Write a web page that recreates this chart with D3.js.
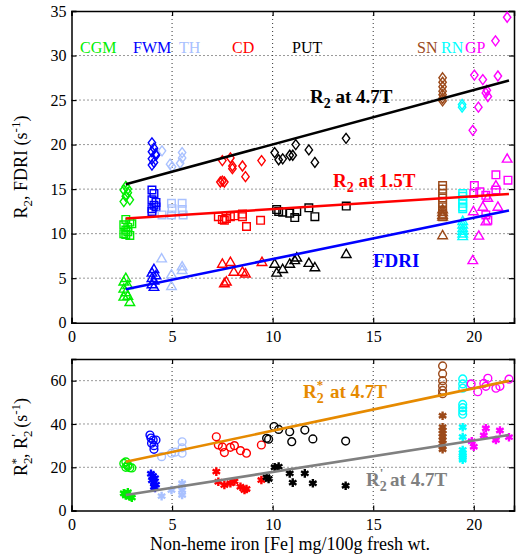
<!DOCTYPE html>
<html><head><meta charset="utf-8">
<script src="https://cdn.jsdelivr.net/npm/d3@7"></script>
<style>body{margin:0;background:#fff}text{font-family:"Liberation Serif","Times New Roman",serif}</style>
</head><body>
<svg id="c" width="530" height="557"></svg>
<script>
const regions = ["CGM","FWM","TH","CD","PUT","SN","RN","GP"];
const regionColors = ["#00ee00","#0000ff","#a9c1ff","#ff0000","#000000","#9c4a1a","#00ffff","#ff00ff"];
const xTicks = [0,5,10,15,20];
const yTicksTop = [0,5,10,15,20,25,30,35];
const yTicksBottom = [0,20,40,60];

// R2 at 4.7T (diamonds)
const r2_47 = [
 ["CGM",2.7,15.3],["CGM",2.6,14.9],["CGM",2.8,14.6],["CGM",2.7,14.2],["CGM",2.9,13.8],["CGM",2.6,13.6],["CGM",2.8,15.0],
 ["FWM",4.0,20.2],["FWM",4.1,19.6],["FWM",4.0,19.2],["FWM",4.2,18.8],["FWM",4.0,18.4],["FWM",4.1,18.0],["FWM",4.0,17.7],["FWM",4.2,19.0],
 ["TH",4.5,19.3],["TH",4.9,17.8],["TH",5.0,17.5],["TH",5.5,19.1],["TH",5.5,18.5],["TH",5.4,17.9],
 ["CD",7.5,18.2],["CD",7.9,18.5],["CD",8.0,17.6],["CD",8.0,17.3],["CD",8.5,17.6],["CD",8.65,16.4],["CD",9.45,18.2],["CD",7.4,15.8],["CD",7.6,15.8],["CD",7.5,15.9],
 ["PUT",10.1,19.1],["PUT",10.3,18.3],["PUT",10.5,18.4],["PUT",10.85,18.8],["PUT",11.15,20.0],["PUT",11.0,18.8],["PUT",11.8,19.4],["PUT",12.1,18.0],["PUT",13.65,20.7],
 ["SN",18.45,27.5],["SN",18.45,27.0],["SN",18.45,26.5],["SN",18.45,26.0],["SN",18.45,25.6],["SN",18.45,25.2],["SN",18.45,24.9],
 ["RN",19.42,24.2],["RN",19.42,24.5],
 ["GP",21.66,34.3],["GP",21.08,31.65],["GP",20.03,27.8],["GP",20.45,27.3],["GP",21.2,27.7],["GP",20.65,26.1],["GP",20.7,25.4],["GP",20.6,25.8],["GP",20.23,24.2],["GP",19.95,21.6]
];
// R2 at 1.5T (squares)
const r2_15 = [
 ["CGM",2.7,11.6],["CGM",2.9,11.3],["CGM",2.6,11.0],["CGM",2.8,10.7],["CGM",2.7,10.4],["CGM",2.6,10.0],["CGM",2.9,9.8],["CGM",2.8,10.2],["CGM",3.0,11.1],["CGM",2.7,9.9],
 ["FWM",4.0,14.9],["FWM",4.1,14.5],["FWM",4.0,13.8],["FWM",4.2,13.5],["FWM",4.1,13.2],["FWM",4.0,12.8],["FWM",4.0,12.5],["FWM",4.2,13.0],
 ["TH",4.5,12.1],["TH",4.97,13.4],["TH",5.0,12.8],["TH",5.5,13.4],["TH",5.5,12.7],["TH",5.55,12.1],["TH",4.97,12.1],
 ["CD",7.3,11.9],["CD",7.5,11.6],["CD",7.7,11.7],["CD",7.9,11.9],["CD",8.1,12.0],["CD",8.5,12.2],["CD",8.5,11.9],["CD",8.7,10.8],["CD",9.4,11.5],["CD",7.6,11.5],
 ["PUT",10.2,12.7],["PUT",10.3,12.5],["PUT",10.5,12.4],["PUT",10.85,12.3],["PUT",11.1,11.8],["PUT",11.2,12.5],["PUT",11.8,12.9],["PUT",12.1,11.9],["PUT",13.66,13.1],
 ["SN",18.45,15.4],["SN",18.45,15.0],["SN",18.45,14.5],["SN",18.45,14.0],["SN",18.45,13.5],["SN",18.45,13.0],["SN",18.45,12.5],["SN",18.45,12.2],["SN",18.45,11.9],
 ["RN",19.45,14.5],["RN",19.45,14.2],["RN",19.45,13.8],["RN",19.45,13.4],["RN",19.45,13.0],["RN",19.45,12.8],
 ["GP",20.03,15.4],["GP",20.3,14.7],["GP",20.6,14.3],["GP",21.1,16.6],["GP",21.7,16.0],["GP",21.1,14.9],["GP",20.7,11.5],["GP",20.6,12.1],["GP",20.0,14.5]
];
// FDRI (triangles)
const fdri = [
 ["CGM",2.7,5.0],["CGM",2.6,4.6],["CGM",2.8,4.2],["CGM",2.6,3.8],["CGM",2.7,3.4],["CGM",2.8,3.0],["CGM",2.9,2.3],["CGM",2.6,2.9],
 ["FWM",4.1,6.0],["FWM",4.0,5.6],["FWM",4.2,5.3],["FWM",4.0,5.0],["FWM",4.1,4.7],["FWM",4.0,4.3],["FWM",4.1,4.0],
 ["TH",4.48,7.2],["TH",4.97,5.4],["TH",4.97,4.1],["TH",5.5,6.3],["TH",5.5,5.9],
 ["CD",7.5,6.6],["CD",7.9,6.8],["CD",8.07,5.7],["CD",8.5,5.7],["CD",8.65,5.5],["CD",7.6,4.4],["CD",7.7,4.6],["CD",9.47,6.8],
 ["PUT",10.1,6.6],["PUT",10.2,5.6],["PUT",10.5,6.0],["PUT",10.85,6.6],["PUT",11.1,7.0],["PUT",11.2,7.3],["PUT",11.8,6.7],["PUT",12.1,6.2],["PUT",13.66,7.7],
 ["SN",18.45,12.7],["SN",18.45,12.4],["SN",18.45,12.1],["SN",18.45,11.9],["SN",18.45,9.8],
 ["RN",19.45,11.4],["RN",19.45,11.0],["RN",19.45,10.6],["RN",19.45,10.3],["RN",19.45,10.0],["RN",19.45,9.7],
 ["GP",21.66,18.4],["GP",19.98,12.5],["GP",20.45,13.0],["GP",20.7,14.0],["GP",21.2,13.0],["GP",20.6,11.35],["GP",20.25,9.75],["GP",19.95,7.0],["GP",21.1,15.4]
];
// R2* at 4.7T (circles)
const r2s_47 = [
 ["CGM",2.6,21.8],["CGM",2.7,22.5],["CGM",2.8,20.5],["CGM",2.9,19.8],["CGM",3.0,19.7],["CGM",2.7,20.0],["CGM",2.8,21.0],
 ["FWM",3.9,34.9],["FWM",4.06,32.6],["FWM",4.2,32.6],["FWM",3.98,31.1],["FWM",4.1,30.0],["FWM",4.1,28.3],["FWM",3.95,33.5],
 ["TH",4.48,24.9],["TH",4.97,26.5],["TH",5.5,31.8],["TH",5.5,29.0],["TH",5.5,26.5],["TH",5.15,27.0],
 ["CD",7.2,34.1],["CD",7.3,30.3],["CD",7.5,29.4],["CD",7.6,26.8],["CD",7.9,29.2],["CD",8.1,30.0],["CD",8.4,27.7],["CD",8.7,26.5],["CD",9.44,30.3],
 ["PUT",10.07,38.8],["PUT",10.3,37.5],["PUT",9.7,33.4],["PUT",9.8,33.0],["PUT",10.85,36.4],["PUT",10.95,31.8],["PUT",11.6,37.2],["PUT",12.0,33.1],["PUT",13.63,32.1],
 ["SN",18.45,66.8],["SN",18.45,63.2],["SN",18.45,60.0],["SN",18.45,57.5],["SN",18.45,55.5],["SN",18.45,54.0],
 ["RN",19.45,60.8],["RN",19.45,58.5],["RN",19.45,56.5],["RN",19.45,49.0],["RN",19.45,47.5],["RN",19.45,46.0],["RN",19.45,44.5],
 ["GP",19.87,58.5],["GP",20.2,54.9],["GP",20.5,58.7],["GP",20.7,61.1],["GP",20.6,57.4],["GP",21.3,57.4],["GP",21.1,56.5],["GP",21.75,60.7]
];
// R2' at 4.7T (asterisks)
const r2p_47 = [
 ["CGM",2.6,8.0],["CGM",2.7,7.5],["CGM",2.8,8.5],["CGM",2.9,6.5],["CGM",3.0,6.0],["CGM",2.7,7.0],
 ["FWM",3.95,17.0],["FWM",4.05,16.0],["FWM",4.15,15.0],["FWM",4.0,14.0],["FWM",4.1,13.0],["FWM",4.2,12.0],["FWM",4.1,11.0],["FWM",4.15,10.5],
 ["TH",4.48,6.7],["TH",4.97,9.5],["TH",5.5,12.6],["TH",5.5,9.5],["TH",5.5,7.2],
 ["CD",7.2,18.0],["CD",7.3,13.3],["CD",7.6,11.8],["CD",7.9,12.6],["CD",8.1,13.5],["CD",8.4,11.0],["CD",8.6,9.5],["CD",8.7,10.0],["CD",9.44,14.1],
 ["PUT",10.1,20.0],["PUT",10.3,20.3],["PUT",9.7,15.4],["PUT",9.8,14.6],["PUT",10.85,17.2],["PUT",11.0,12.9],["PUT",11.6,17.2],["PUT",12.0,12.6],["PUT",13.63,11.5],
 ["SN",18.45,43.8],["SN",18.45,38.5],["SN",18.45,37.0],["SN",18.45,35.5],["SN",18.45,34.0],["SN",18.45,32.5],["SN",18.45,31.0],["SN",18.45,29.5],["SN",18.45,28.3],
 ["RN",19.45,38.5],["RN",19.45,34.0],["RN",19.45,28.0],["RN",19.45,26.5],["RN",19.45,25.5],["RN",19.45,24.5],["RN",19.45,23.5],
 ["GP",20.0,29.5],["GP",19.9,32.0],["GP",20.6,38.0],["GP",20.5,34.7],["GP",21.1,32.6],["GP",21.3,37.0],["GP",21.75,33.9]
];
// linear fit end points [x, y]
const fitR2_47 = [[2.7,15.55],[21.75,27.2]];
const fitR2_15 = [[2.7,11.7],[21.75,14.45]];
const fitFDRI = [[2.7,3.75],[21.75,12.6]];
const fitR2s = [[2.7,22.6],[21.75,59.9]];
const fitR2p = [[2.7,7.2],[21.75,34.9]];

const svg = d3.select("#c");
const color = d3.scaleOrdinal().domain(regions).range(regionColors);
const L = 71.5, R = 514;
const x = d3.scaleLinear().domain([0,22]).range([L,R]);
const yT = d3.scaleLinear().domain([0,35]).range([322.7,11]);
const yB = d3.scaleLinear().domain([0,70]).range([510.6,359]);

function frame(y, yTicks){
  const g = svg.append("g");
  const [b,t] = y.range();
  g.selectAll(null).data(xTicks.filter(d=>d>0)).enter().append("line")
   .attr("x1",d=>x(d)).attr("x2",d=>x(d)).attr("y1",t).attr("y2",b)
   .attr("stroke","#333").attr("stroke-width",1).attr("stroke-dasharray","1,3");
  g.selectAll(null).data(yTicks.filter(d=>d>y.domain()[0]&&d<y.domain()[1])).enter().append("line")
   .attr("y1",d=>y(d)).attr("y2",d=>y(d)).attr("x1",L).attr("x2",R)
   .attr("stroke","#333").attr("stroke-width",1).attr("stroke-dasharray","1,3");
  const ax = g.append("g").attr("transform",`translate(0,${b})`)
    .call(d3.axisBottom(x).tickValues(xTicks).tickSize(-5).tickPadding(8));
  const axT = g.append("g").attr("transform",`translate(0,${t})`)
    .call(d3.axisTop(x).tickValues(xTicks).tickSize(-5).tickFormat(""));
  const ay = g.append("g").attr("transform",`translate(${L},0)`)
    .call(d3.axisLeft(y).tickValues(yTicks).tickSize(-5).tickPadding(5));
  const ayR = g.append("g").attr("transform",`translate(${R},0)`)
    .call(d3.axisRight(y).tickValues(yTicks).tickSize(-5).tickFormat(""));
  [ax,axT,ay,ayR].forEach(a=>{
    a.select(".domain").attr("stroke","#000").attr("stroke-width",1.5);
    a.selectAll(".tick line").attr("stroke","#000").attr("stroke-width",1.2);
    a.selectAll("text").attr("font-size",16).attr("font-family","Liberation Serif").attr("fill","#000");
  });
  return g;
}
frame(yT, yTicksTop);
frame(yB, yTicksBottom);

function fitLine(data, y, col){
  svg.append("line").attr("x1",x(data[0][0])).attr("y1",y(data[0][1]))
    .attr("x2",x(data[1][0])).attr("y2",y(data[1][1]))
    .attr("stroke",col).attr("stroke-width",2.6);
}

const sym = {
  diamond: (cx,cy)=>`M${cx},${cy-5}L${cx+3.7},${cy}L${cx},${cy+5}L${cx-3.7},${cy}Z`,
  square: (cx,cy)=>`M${cx-3.8},${cy-3.8}h7.6v7.6h-7.6Z`,
  triangle: (cx,cy)=>`M${cx},${cy-5}L${cx+4.8},${cy+3.3}L${cx-4.8},${cy+3.3}Z`,
  circle: (cx,cy)=>`M${cx+3.9},${cy}A3.9,3.9 0 1 1 ${cx-3.9},${cy}A3.9,3.9 0 1 1 ${cx+3.9},${cy}Z`,
  star: (cx,cy)=>{let s="";for(let k=0;k<3;k++){const a=Math.PI/2+k*Math.PI/3;const dx=4.3*Math.cos(a),dy=4.3*Math.sin(a);s+=`M${cx-dx},${cy-dy}L${cx+dx},${cy+dy}`;}return s;}
};
function points(data, y, shape, sw){
  svg.append("g").selectAll("path").data(data).enter().append("path")
    .attr("d",d=>sym[shape](x(d[1]),y(d[2])))
    .attr("fill","none").attr("stroke",d=>color(d[0])).attr("stroke-width",sw||1.4);
}
points(r2_47, yT, "diamond");
points(r2_15, yT, "square");
points(fdri, yT, "triangle");
fitLine(fitR2_47, yT, "#000");
fitLine(fitR2_15, yT, "#ff0000");
fitLine(fitFDRI, yT, "#0000ff");
points(r2s_47, yB, "circle");
points(r2p_47, yB, "star", 2.4);
fitLine(fitR2s, yB, "#e68a00");
fitLine(fitR2p, yB, "#808080");

// region labels
const labelX = [80,133,179,232,292,417,441,465];
svg.append("g").selectAll("text").data(regions).enter().append("text")
  .attr("x",(d,i)=>labelX[i]).attr("y",53).attr("font-size",16)
  .attr("fill",d=>color(d)).text(d=>d);

function label(xp, yp, col, sup, rest){
  const t = svg.append("text").attr("x",xp).attr("y",yp).attr("fill",col)
    .attr("font-size",19).attr("font-weight","bold");
  t.append("tspan").text("R");
  t.append("tspan").attr("dy",5).attr("font-size",14).text("2");
  if(sup){ t.append("tspan").attr("dx",-7).attr("dy",-14).attr("font-size",13).text(sup);
           t.append("tspan").attr("dx",2).attr("dy",9).text(rest); }
  else t.append("tspan").attr("dy",-5).text(rest);
}
label(310,103,"#000",null," at 4.7T");
label(333,187,"#ff0000",null," at 1.5T");
svg.append("text").attr("x",373).attr("y",267).attr("fill","#0000ff").attr("font-size",19).attr("font-weight","bold").text("FDRI");
label(303,398,"#e68a00","*"," at 4.7T");
label(366,486,"#808080","'"," at 4.7T");

// axis titles
const yl1 = svg.append("text").attr("transform","translate(27,167) rotate(-90)").attr("text-anchor","middle").attr("font-size",18);
yl1.append("tspan").text("R");
yl1.append("tspan").attr("dy",5).attr("font-size",13).text("2");
yl1.append("tspan").attr("dy",-5).text(", FDRI (s");
yl1.append("tspan").attr("dy",-7).attr("font-size",13).text("-1");
yl1.append("tspan").attr("dy",7).text(")");

const yl2 = svg.append("text").attr("transform","translate(27,437) rotate(-90)").attr("text-anchor","middle").attr("font-size",18);
yl2.append("tspan").text("R");
yl2.append("tspan").attr("dy",5).attr("font-size",13).text("2");
yl2.append("tspan").attr("dx",-7).attr("dy",-12).attr("font-size",13).text("*");
yl2.append("tspan").attr("dy",7).text(", R");
yl2.append("tspan").attr("dy",5).attr("font-size",13).text("2");
yl2.append("tspan").attr("dx",-6).attr("dy",-12).attr("font-size",13).text("'");
yl2.append("tspan").attr("dx",2).attr("dy",7).text(" (s");
yl2.append("tspan").attr("dy",-7).attr("font-size",13).text("-1");
yl2.append("tspan").attr("dy",7).text(")");

svg.append("text").attr("x",290).attr("y",550).attr("text-anchor","middle").attr("font-size",18)
  .text("Non-heme iron [Fe] mg/100g fresh wt.");
</script>
</body></html>
